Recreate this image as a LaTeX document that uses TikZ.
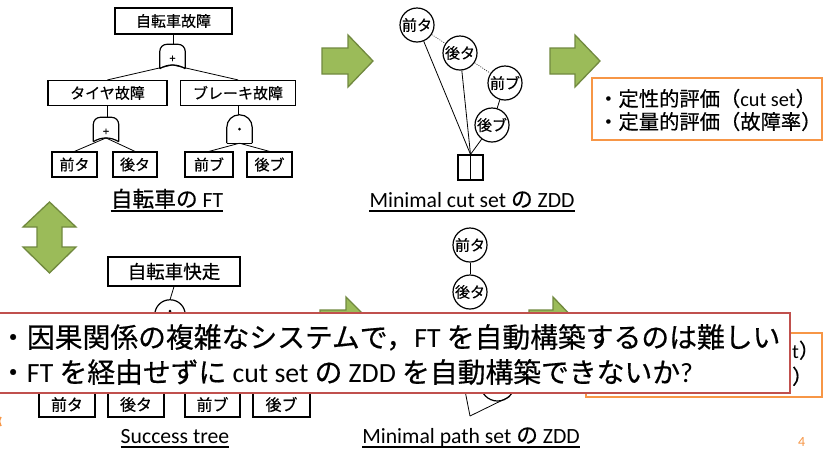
\documentclass[tikz,border=0pt]{standalone}
\usepackage{fontspec}
\setmainfont[FakeBold=0.5]{Noto Sans CJK JP}
\newfontfamily\latf{Carlito}
\newcommand{\Lat}[1]{{\latf #1}}
\usetikzlibrary{calc}
\definecolor{agreen}{HTML}{9BBB59}
\definecolor{agreenedge}{HTML}{71893F}
\definecolor{borange}{HTML}{F79646}
\definecolor{bred}{HTML}{C0504D}
\tikzset{
  ftbox/.style={draw, line width=1.2pt, inner sep=0pt, font=\fontsize{15}{18}\selectfont},
  gatebox/.style={inner sep=0pt, minimum width=25pt, minimum height=24pt},
  gateline/.style={line width=1.2pt},
  gatesym/.style={inner sep=0pt, font=\fontsize{11}{12}\selectfont},
  conn/.style={line width=0.8pt},
  zddnode/.style={circle, draw, line width=1.2pt, minimum size=34pt, inner sep=0pt, font=\fontsize{15}{16}\selectfont},
  zeroedge/.style={line width=0.7pt, dash pattern=on 1pt off 1.3pt, black!75},
  oneedge/.style={line width=0.8pt},
  termbox/.style={draw, line width=1.2pt, minimum width=25pt, minimum height=25pt, inner sep=0pt},
  captxt/.style={inner sep=0pt, anchor=base, font=\fontsize{21.7}{24}\selectfont},
  capline/.style={line width=1.2pt},
  greenarrow/.style={fill=agreen, draw=agreenedge, line width=1.3pt, line join=miter},
  orangebox/.style={draw=borange, line width=2pt, fill=white, inner sep=0pt},
  orangetxt/.style={inner sep=0pt, anchor=west, align=left, font=\fontsize{20.3}{23}\selectfont},
  redbox/.style={draw=bred, line width=2pt, fill=white, inner sep=0pt},
  redtxt/.style={inner sep=0pt, anchor=west, align=left, font=\fontsize{27.8}{35}\selectfont},
}
% OR gate: name, x, y
\newcommand{\orgate}[3]{%
  \node[gatebox] (#1) at (#2,#3) {};
  \draw[gateline, rounded corners=7pt] (#1.south west) -- (#1.north west) -- (#1.north east) -- (#1.south east);
  \draw[gateline] (#1.south east) .. controls ($(#1.south east)+(-8,-5)$) and ($(#1.south west)+(8,-5)$) .. (#1.south west);
  \coordinate (#1-out) at ($(#1.south)+(0,-3.75)$);
  \node[gatesym] (#1-sym) at ($(#1.center)+(0,2.5)$) {+};
}
% AND gate: name, x, y, w, h, r
\newcommand{\andgate}[6]{%
  \node[gatebox, minimum width=#4pt, minimum height=#5pt] (#1) at (#2,#3) {};
  \draw[gateline, rounded corners=#6pt] (#1.south west) -- (#1.north west) -- (#1.north east) -- (#1.south east);
  \draw[gateline] (#1.south west) -- (#1.south east);
  \coordinate (#1-out) at (#1.south);
  \fill (#1.center) circle (1.5pt);
}
% green arrow: x0, xhead, xtip, ycentre
\newcommand{\garrow}[4]{%
  \draw[greenarrow] (#1,#4-13) -- (#2,#4-13) -- (#2,#4-26) -- (#3,#4) -- (#2,#4+26) -- (#2,#4+13) -- (#1,#4+13) -- cycle;
}
\begin{document}
\begin{tikzpicture}[x=1pt,y=-1pt]
\useasboundingbox (0,0) rectangle (829,448);
\fill[white] (0,0) rectangle (829,448);

% ---------- Fault tree ----------
\node[ftbox, minimum width=117pt, minimum height=26pt] (f0) at (173.5,21) {自転車故障};
\orgate{g0}{172.5}{56.5}
\node[ftbox, minimum width=119pt, minimum height=25pt] (f1) at (107.5,93) {タイヤ故障};
\node[ftbox, minimum width=115pt, minimum height=25pt] (f2) at (238,93) {ブレーキ故障};
\orgate{g1}{106}{129.5}
\andgate{g2}{239.5}{129}{25}{28}{12.5}
\node[ftbox, minimum width=45pt, minimum height=25pt] (l1) at (74.5,164.5) {前タ};
\node[ftbox, minimum width=44pt, minimum height=25pt] (l2) at (135,164.5) {後タ};
\node[ftbox, minimum width=48pt, minimum height=25pt] (l3) at (209,164.5) {前ブ};
\node[ftbox, minimum width=45pt, minimum height=25pt] (l4) at (269.5,164.5) {後ブ};
\draw[conn] (f0.south) -- (f0.south |- g0.north);
\draw[conn] (g0-out) -- (f1.north);
\draw[conn] (g0-out) -- (f2.north);
\draw[conn] (f1.south) -- (f1.south |- g1.north);
\draw[conn] (f2.south) -- (f2.south |- g2.north);
\draw[conn] (g1-out) -- (l1.north);
\draw[conn] (g1-out) -- (l2.north);
\draw[conn] (g2-out) -- (l3.north);
\draw[conn] (g2-out) -- (l4.north);
\node[captxt] (cap1) at (167,207) {自転車の \Lat{FT}};
\draw[capline] ([yshift=-4pt]cap1.base west) -- ([yshift=-4pt]cap1.base east);

% ---------- Minimal cut set ZDD ----------
\node[zddnode] (za) at (417,25) {前タ};
\node[zddnode] (zb) at (460,53) {後タ};
\node[zddnode] (zc) at (505,83) {前ブ};
\node[zddnode] (zd) at (492,125) {後ブ};
\node[termbox] (zt) at (470.5,167.5) {};
\draw[line width=1pt] (zt.north) -- (zt.south);
\draw[zeroedge] (za) -- (zb);
\draw[zeroedge] (zb) -- (zc);
\draw[oneedge] (za) -- (zt.north);
\draw[oneedge] (zb) -- (zt.north);
\draw[oneedge] (zc) -- (zd);
\draw[oneedge] (zd) -- (zt.north);
\node[captxt] (cap2) at (472,207) {\Lat{Minimal cut set} の \Lat{ZDD}};
\draw[capline] ([yshift=-4pt]cap2.base west) -- ([yshift=-4pt]cap2.base east);

% ---------- top right evaluation box ----------
\node[orangebox, minimum width=230pt, minimum height=62pt] (ob1) at (707,109) {};
\node[orangetxt] (ot1) at (598,110) {・定性的評価（\Lat{cut set}）\\・定量的評価（故障率）};

% ---------- Success tree ----------
\node[ftbox, minimum width=132pt, minimum height=29pt, font=\fontsize{18.5}{20}\selectfont] (s0) at (174,271.5) {自転車快走};
\andgate{sg}{170}{311}{30}{22}{15}
\draw[conn] (s0.south) -- (sg.north);
\node[ftbox, minimum width=56pt, minimum height=25pt, font=\fontsize{16}{18}\selectfont] (s1) at (67,404.5) {前タ};
\node[ftbox, minimum width=56pt, minimum height=25pt, font=\fontsize{16}{18}\selectfont] (s2) at (136,404.5) {後タ};
\node[ftbox, minimum width=55pt, minimum height=25pt, font=\fontsize{16}{18}\selectfont] (s3) at (212.5,404.5) {前ブ};
\node[ftbox, minimum width=57pt, minimum height=25pt, font=\fontsize{16}{18}\selectfont] (s4) at (281.5,404.5) {後ブ};
\node[captxt] (cap3) at (175,443) {\Lat{Success tree}};
\draw[capline] ([yshift=-4pt]cap3.base west) -- ([yshift=-4pt]cap3.base east);

% ---------- Minimal path set ZDD ----------
\node[zddnode] (pa) at (470,245) {前タ};
\node[zddnode] (pb) at (470,292) {後タ};
\node[zddnode] (pc) at (456,345) {};
\node[zddnode] (pd) at (497.5,384) {};
\coordinate (pt) at (470,416);
\draw[oneedge] (pa) -- (pb);
\draw[oneedge] (pc) -- (pt);
\draw[oneedge] (pd.south east) -- (pt);
\node[captxt] (cap4) at (471,443) {\Lat{Minimal path set} の \Lat{ZDD}};
\draw[capline] ([yshift=-4pt]cap4.base west) -- ([yshift=-4pt]cap4.base east);

% ---------- bottom right evaluation box (mostly hidden) ----------
\node[orangebox, minimum width=236pt, minimum height=64pt] (ob2) at (704,365) {};
\node[inner sep=0pt, anchor=base west, font=\fontsize{20.3}{23}\selectfont] (ot2a) at (792,358) {\Lat{t}）};
\node[inner sep=0pt, anchor=base west, font=\fontsize{20.3}{23}\selectfont] (ot2b) at (792,384) {）};

% ---------- green arrows ----------
\garrow{322}{348}{373}{61}
\garrow{550}{575}{600}{61}
\garrow{320}{346}{372}{323}
\garrow{529}{553}{578}{323}
\draw[greenarrow] (37,227) -- (23,227) -- (49.5,202) -- (76,227) -- (62,227) -- (62,247) -- (76,247) -- (49.5,273) -- (23,247) -- (37,247) -- cycle;

% ---------- red callout ----------
\node[redbox, minimum width=800pt, minimum height=80pt] (rb) at (390,353) {};
\node[redtxt] (rt) at (-1,354.5) {・因果関係の複雑なシステムで，\Lat{FT} を自動構築するのは難しい\\・\Lat{FT} を経由せずに \Lat{cut set} の \Lat{ZDD} を自動構築できないか\Lat{?}};

% ---------- slide remnants ----------
\draw[borange, line width=1.5pt] (1,417) .. controls (-1,421) .. (1,426);
\node[inner sep=0pt, anchor=base west, text=borange, font=\latf\fontsize{14}{16}\selectfont] (pnum) at (798,446) {4};
\end{tikzpicture}
\end{document}
